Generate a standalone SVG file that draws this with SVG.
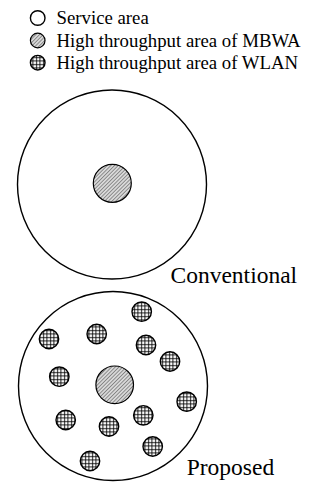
<svg xmlns="http://www.w3.org/2000/svg" width="320" height="485" viewBox="0 0 320 485">
<style>
.t{font-family:"Liberation Serif","Times New Roman",serif;fill:#000}
.leg{font-size:18.8px}
.lab{font-size:23.5px}
.area{fill:#fff;stroke:#000;stroke-width:1.4}
.mbwa{fill:url(#diag);stroke:#000;stroke-width:1.2}
.wlan{fill:url(#grid);stroke:#000;stroke-width:1.4}
</style>
<defs>
<pattern id="diag" patternUnits="userSpaceOnUse" width="2.6" height="2.6" patternTransform="rotate(45)">
<rect width="2.6" height="2.6" fill="#d8d8d8"/>
<line x1="0" y1="0" x2="0" y2="2.6" stroke="#333" stroke-width="0.9"/>
</pattern>
<pattern id="grid" patternUnits="userSpaceOnUse" width="3.5" height="3.5">
<rect width="3.5" height="3.5" fill="#fff"/>
<path d="M1.5 0V3.5M0 1.5H3.5" stroke="#000" stroke-width="0.9" fill="none"/>
</pattern>
</defs>
<g id="legend">
<g id="legend-service"><circle class="area" cx="37.7" cy="18" r="7.3"/><text class="t leg" x="56.5" y="24.2">Service area</text></g>
<g id="legend-mbwa"><circle class="mbwa" cx="37.7" cy="40.5" r="7.3"/><text class="t leg" x="56.5" y="46.7">High throughput area of MBWA</text></g>
<g id="legend-wlan"><circle class="wlan" cx="37.7" cy="62.7" r="7.3"/><text class="t leg" x="56.5" y="68.9">High throughput area of WLAN</text></g>
</g>
<g id="conventional">
<circle class="area" cx="112" cy="184.5" r="94.5"/>
<circle class="mbwa" cx="112.3" cy="183.3" r="19"/>
<text class="t lab" x="170.5" y="282.5">Conventional</text>
</g>
<g id="proposed">
<circle class="area" cx="113" cy="386" r="94.5"/>
<circle class="mbwa" cx="114.7" cy="384.8" r="18.8"/>
<circle class="wlan" cx="141.7" cy="311.7" r="9.7"/>
<circle class="wlan" cx="96.7" cy="334" r="9.7"/>
<circle class="wlan" cx="49" cy="339" r="9.7"/>
<circle class="wlan" cx="146" cy="345" r="9.7"/>
<circle class="wlan" cx="170" cy="361.5" r="9.7"/>
<circle class="wlan" cx="59.3" cy="376.7" r="9.7"/>
<circle class="wlan" cx="186.7" cy="401.7" r="9.7"/>
<circle class="wlan" cx="143.3" cy="415.3" r="9.7"/>
<circle class="wlan" cx="65.7" cy="420" r="9.7"/>
<circle class="wlan" cx="109" cy="426.5" r="9.7"/>
<circle class="wlan" cx="152.7" cy="446.5" r="9.7"/>
<circle class="wlan" cx="90" cy="461" r="9.7"/>
<text class="t lab" x="186.7" y="475">Proposed</text>
</g>
</svg>
